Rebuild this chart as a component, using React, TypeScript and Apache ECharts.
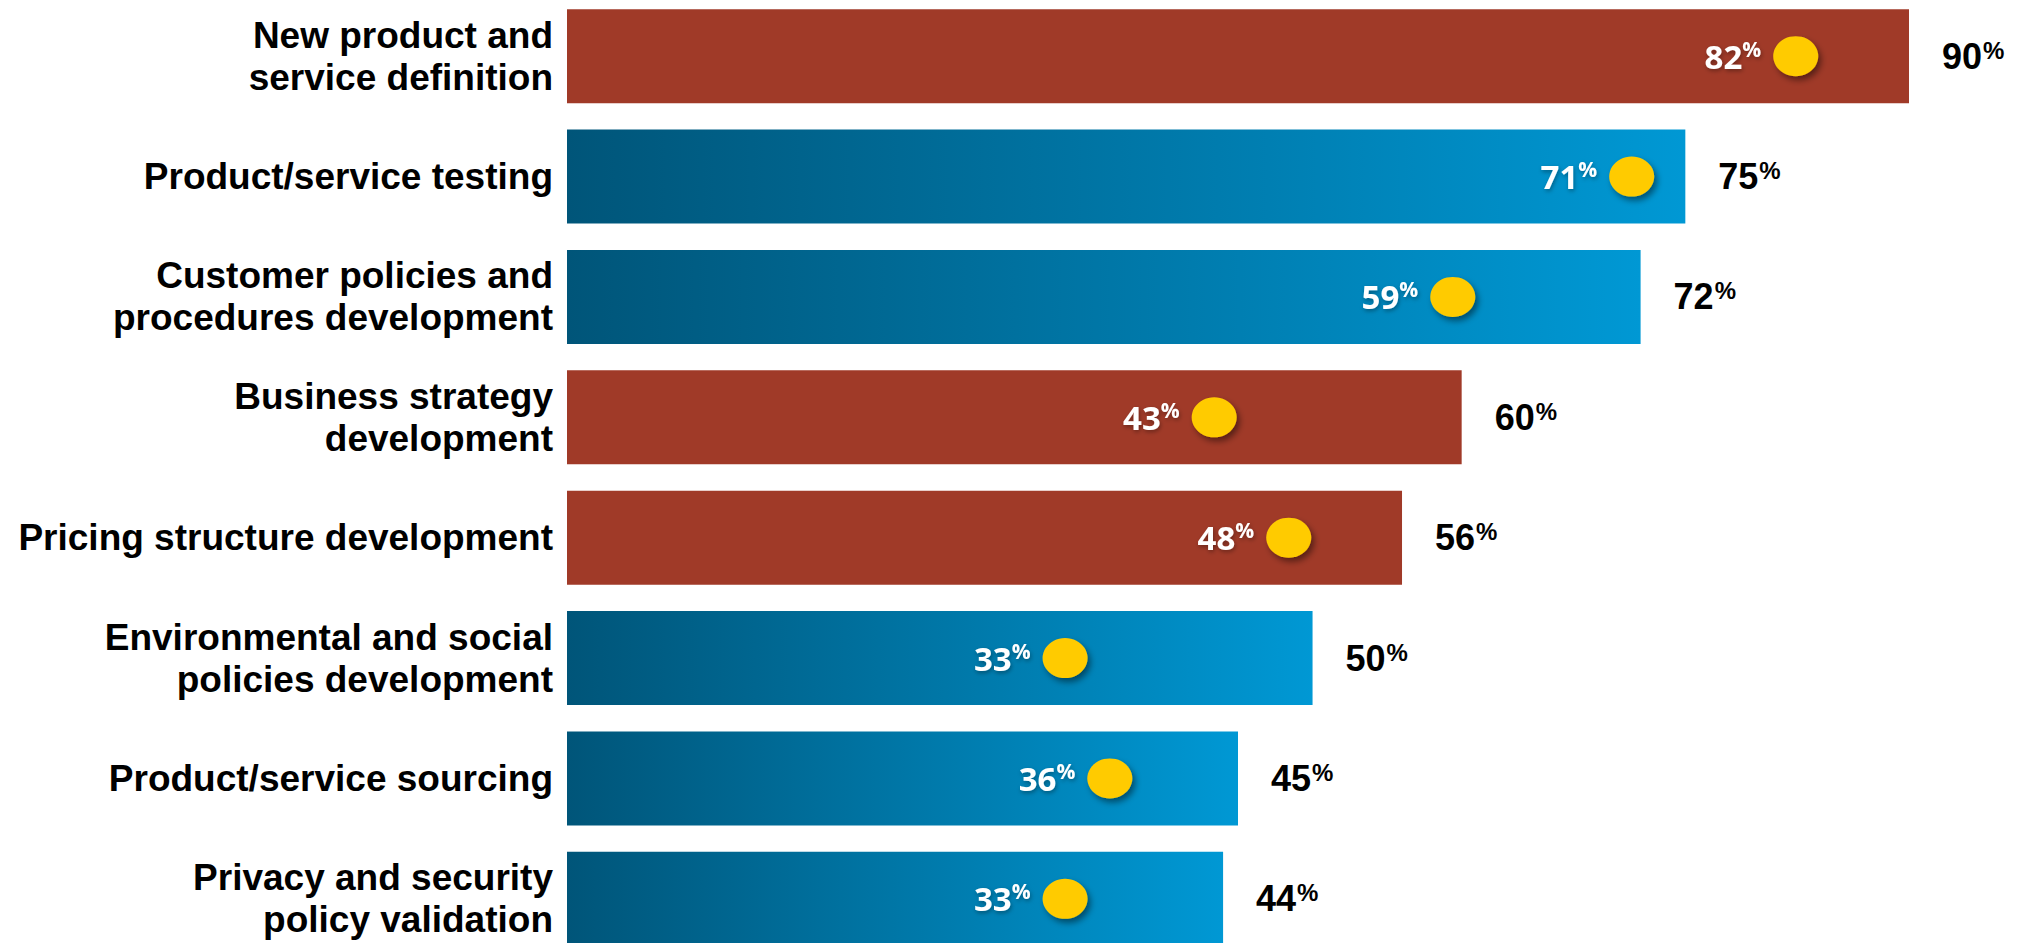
import React, { useEffect, useRef } from "react";
import * as echarts from "echarts";

const categories = [
  "New product and\nservice definition",
  "Product/service testing",
  "Customer policies and\nprocedures development",
  "Business strategy\ndevelopment",
  "Pricing structure development",
  "Environmental and social\npolicies development",
  "Product/service sourcing",
  "Privacy and security\npolicy validation",
];
const totalValues = [90, 75, 72, 60, 56, 50, 45, 44];
const innerValues = [82, 71, 59, 43, 48, 33, 36, 33];
const highlighted = [true, false, false, true, true, false, false, false];

const RED = "#A03A28";
const BLUE_DARK = "#005579";
const BLUE_LIGHT = "#0098D4";
const YELLOW = "#FFCB00";

const shadowText = {
  textShadowColor: "rgba(0,0,0,0.35)",
  textShadowBlur: 4,
  textShadowOffsetX: 1,
  textShadowOffsetY: 2,
};

// The chart div is taller than the page so the last bar can be cut at the bottom edge.
const OVERHANG_TOP = 20;
const DIV_HEIGHT = 990;

export default function App() {
  const ref = useRef<HTMLDivElement>(null);
  useEffect(() => {
    if (!ref.current) return;
    const chart = echarts.init(ref.current, null, { renderer: "svg" });
    const barData = totalValues.map((v, i) => ({
      value: v,
      itemStyle: {
        color: highlighted[i]
          ? RED
          : new echarts.graphic.LinearGradient(0, 0, 1, 0, [
              { offset: 0, color: BLUE_DARK },
              { offset: 1, color: BLUE_LIGHT },
            ]),
      },
    }));
    chart.setOption({
      animation: false,
      backgroundColor: "#ffffff",
      grid: { left: 567, right: 112, top: 16, bottom: 11, containLabel: false },
      xAxis: { type: "value", min: 0, max: 90, show: false },
      yAxis: {
        type: "category",
        data: categories,
        inverse: true,
        axisLine: { show: false },
        axisTick: { show: false },
        splitLine: { show: false },
        axisLabel: {
          margin: 14,
          color: "#000",
          fontFamily: '"Liberation Sans", Arial, sans-serif',
          fontWeight: "bold",
          fontSize: 37,
          lineHeight: 42,
          align: "right",
        },
      },
      series: [
        {
          type: "bar",
          data: barData,
          barWidth: 94,
          z: 1,
          label: {
            show: true,
            position: "right",
            distance: 33,
            formatter: (p: any) => `{v|${p.value}}{p|%}`,
            rich: {
              v: {
                fontFamily: '"Liberation Sans", Arial, sans-serif',
                fontWeight: "bold",
                fontSize: 36,
                color: "#000",
                lineHeight: 36,
              },
              p: {
                fontFamily: '"Liberation Sans", Arial, sans-serif',
                fontWeight: "bold",
                fontSize: 24,
                color: "#000",
                lineHeight: 36,
                verticalAlign: "top",
                padding: [0, 0, 0, 1],
              },
            },
          },
        },
        {
          type: "scatter",
          data: innerValues,
          symbol: "circle",
          symbolSize: [45, 40],
          symbolOffset: [6, 0],
          z: 5,
          itemStyle: {
            color: YELLOW,
            opacity: 1,
            shadowColor: "rgba(0,0,0,0.45)",
            shadowBlur: 6,
            shadowOffsetX: 3,
            shadowOffsetY: 4,
          },
          emphasis: { disabled: true },
          label: {
            show: true,
            position: "left",
            distance: 12,
            opacity: 1,
            formatter: (p: any) => `{v|${p.value}}{p|%}`,
            rich: {
              v: {
                fontFamily: '"Open Sans", sans-serif',
                fontWeight: "bold",
                fontSize: 33,
                color: "#fff",
                lineHeight: 36,
                ...shadowText,
              },
              p: {
                fontFamily: '"Open Sans", sans-serif',
                fontWeight: "bold",
                fontSize: 21,
                color: "#fff",
                lineHeight: 36,
                verticalAlign: "top",
                ...shadowText,
              },
            },
          },
        },
      ],
    });
    return () => chart.dispose();
  }, []);
  return (
    <div style={{ position: "fixed", left: 0, top: 0, width: 2021, height: 943, overflow: "hidden", background: "#fff" }}>
      <div
        ref={ref}
        style={{ position: "absolute", left: 0, top: -OVERHANG_TOP, width: 2021, height: DIV_HEIGHT }}
      />
    </div>
  );
}
